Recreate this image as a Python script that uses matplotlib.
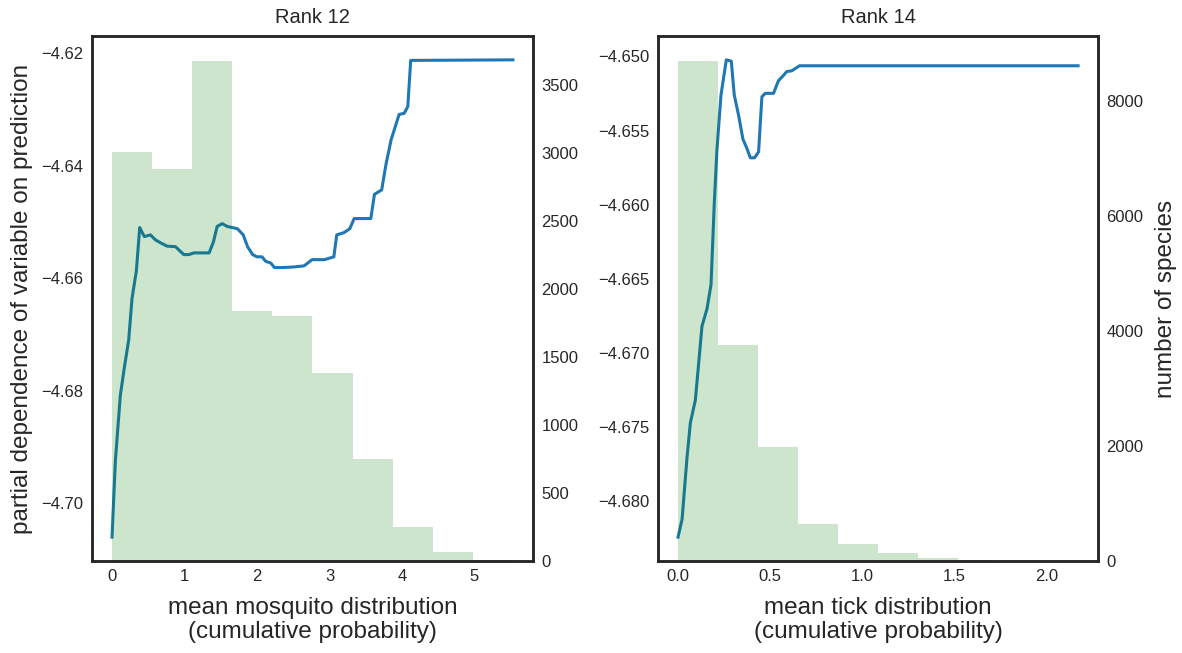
import numpy as np
import matplotlib.pyplot as plt

plt.rcParams['font.family'] = ['Liberation Sans', 'DejaVu Sans']

# Rank 12: mosquito partial dependence
mosq_x = [0.0, 0.046, 0.115, 0.17, 0.23, 0.276, 0.336, 0.382, 0.405, 0.447, 0.53, 0.6,
          0.668, 0.76, 0.876, 0.99, 1.06, 1.13, 1.34, 1.40, 1.45, 1.52, 1.59, 1.73, 1.81,
          1.87, 1.94, 2.0, 2.07, 2.12, 2.19, 2.24, 2.35, 2.51, 2.65, 2.76, 2.93, 3.06, 3.10,
          3.20, 3.28, 3.34, 3.57, 3.62, 3.72, 3.78, 3.85, 3.96, 4.03, 4.08, 4.12, 5.53]
mosq_pd = [-4.7060, -4.6925, -4.6808, -4.6759, -4.6710, -4.6636, -4.6587, -4.6510, -4.6516,
           -4.6526, -4.6523, -4.6532, -4.6537, -4.6543, -4.6544, -4.6558, -4.6558, -4.6555,
           -4.6555, -4.6535, -4.6508, -4.6503, -4.6508, -4.6512, -4.6523, -4.6544, -4.6558,
           -4.6562, -4.6562, -4.6570, -4.6573, -4.6581, -4.6581, -4.6580, -4.6578, -4.6567,
           -4.6567, -4.6562, -4.6523, -4.6519, -4.6512, -4.6494, -4.6494, -4.6451, -4.6443,
           -4.6397, -4.6354, -4.6309, -4.6307, -4.6295, -4.6213, -4.6212]
mosq_counts = [3004, 2885, 3677, 1841, 1798, 1384, 749, 249, 63, 6]

# Rank 14: tick partial dependence
tick_x = [0.0, 0.022, 0.049, 0.067, 0.094, 0.13, 0.157, 0.179, 0.197, 0.211, 0.233, 0.262,
          0.289, 0.305, 0.329, 0.352, 0.374, 0.392, 0.415, 0.437, 0.455, 0.473, 0.518, 0.545,
          0.569, 0.590, 0.617, 0.659, 2.17]
tick_pd = [-4.68244, -4.68124, -4.67704, -4.67472, -4.67320, -4.66820, -4.66704, -4.66540,
           -4.65982, -4.65633, -4.65260, -4.65023, -4.65032, -4.65260, -4.65400, -4.65558,
           -4.65621, -4.65684, -4.65684, -4.65644, -4.65272, -4.65249, -4.65249, -4.65163,
           -4.65132, -4.65102, -4.65097, -4.65063, -4.65063]
tick_counts = [8690, 3762, 1977, 641, 288, 138, 60, 20, 8, 5]

titles = ['Rank 12', 'Rank 14']
xlabels = ['mean mosquito distribution\n(cumulative probability)',
           'mean tick distribution\n(cumulative probability)']

fig = plt.figure(figsize=(11.82, 6.53), dpi=100)
rects = [[0.0778, 0.1409, 0.3731, 0.804], [0.5567, 0.1409, 0.3723, 0.804]]
data = [(mosq_x, mosq_pd, mosq_counts), (tick_x, tick_pd, tick_counts)]

for i in range(2):
    xs, pd_vals, counts = data[i]
    ax = fig.add_axes(rects[i])
    ax.plot(xs, pd_vals, color='#1f77b4', lw=2.2)
    ax2 = ax.twinx()
    edges = np.linspace(xs[0], xs[-1], len(counts) + 1)
    ax2.bar(edges[:-1], counts, width=np.diff(edges), align='edge',
            color='green', alpha=0.2, linewidth=0)
    ax2.set_ylim(0, max(counts) * 1.05)
    for a in (ax, ax2):
        a.tick_params(length=0, pad=6, labelsize=12, colors='0.15')
        for s in a.spines.values():
            s.set_linewidth(1.8)
            s.set_color('0.15')
    ax.set_title(titles[i], fontsize=14.5, pad=9, color='0.15')
    ax.set_xlabel(xlabels[i], fontsize=17.5, color='0.15', linespacing=1.15,
                  labelpad=9)
    if i == 0:
        ax.set_xticks([0, 1, 2, 3, 4, 5])
        ax.set_ylabel('partial dependence of variable on prediction', fontsize=17.5,
                      color='0.15', labelpad=6)
    else:
        ax.set_xticks([0.0, 0.5, 1.0, 1.5, 2.0])
        ax.set_xticklabels(['0.0', '0.5', '1.0', '1.5', '2.0'])
        ax2.set_ylabel('number of species', fontsize=17.5, color='0.15', labelpad=8)

fig.savefig('out.png', dpi=100)
